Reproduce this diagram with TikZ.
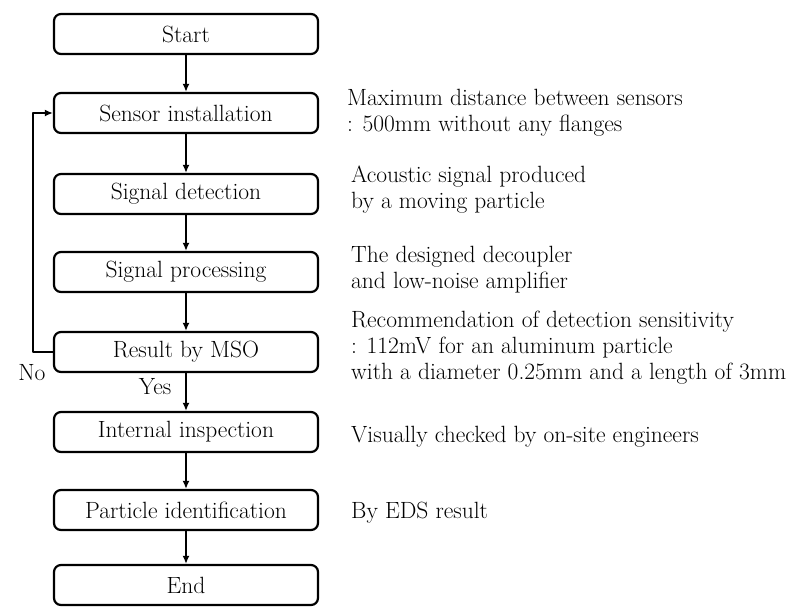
\documentclass[tikz,border=0pt]{standalone}
\usetikzlibrary{arrows.meta}

\tikzset{
  stepbox/.style={draw, line width=2.2pt, rounded corners=7pt,
    minimum width=264pt, minimum height=40pt, inner sep=0pt,
    font=\fontsize{23.5}{26}\selectfont},
  note/.style={anchor=west, align=left, inner sep=0pt,
    font=\fontsize{23.5}{26}\selectfont},
  flow/.style={line width=1.8pt, -{Latex[length=8pt,width=7pt]}},
}

\begin{document}
\begin{tikzpicture}[x=1pt, y=-1pt, line join=round]

  \useasboundingbox (0,0) rectangle (795,606);

  %% ════ flow boxes ════
  \node[stepbox] (start)    at (186,34)  {Start};
  \node[stepbox] (sensor)   at (186,113) {Sensor installation};
  \node[stepbox] (detect)   at (186,194) {Signal detection};
  \node[stepbox] (process)  at (186,272) {Signal processing};
  \node[stepbox] (result)   at (186,352) {Result by MSO};
  \node[stepbox] (inspect)  at (186,432) {Internal inspection};
  \node[stepbox] (identify) at (186,510) {Particle identification};
  \node[stepbox] (finish)   at (186,585) {End};

  %% ════ connectors ════
  \draw[flow] (start) -- (sensor);
  \draw[flow] (sensor) -- (detect);
  \draw[flow] (detect) -- (process);
  \draw[flow] (process) -- (result);
  \draw[flow] (result) -- (inspect);
  \draw[flow] (inspect) -- (identify);
  \draw[flow] (identify) -- (finish);
  \draw[flow] (result.west) -- ++(-20,0) |- (sensor.west);

  \node[inner sep=0pt, font=\fontsize{23.5}{26}\selectfont] (nolabel)  at (32,373)  {No};
  \node[inner sep=0pt, font=\fontsize{23.5}{26}\selectfont] (yeslabel) at (155,387) {Yes};

  %% ════ remarks on the right ════
  \node[note] (sensornote)   at (347,113) {Maximum distance between sensors\\: 500mm without any flanges};
  \node[note] (detectnote)   at (351,190) {Acoustic signal produced\\by a moving particle};
  \node[note] (processnote)  at (351,270) {The designed decoupler\\and low-noise amplifier};
  \node[note] (resultnote)   at (351,348) {Recommendation of detection sensitivity\\: 112mV for an aluminum particle\\with a diameter 0.25mm and a length of 3mm};
  \node[note] (inspectnote)  at (351,437) {Visually checked by on-site engineers};
  \node[note] (identifynote) at (351,513) {By EDS result};

\end{tikzpicture}
\end{document}
